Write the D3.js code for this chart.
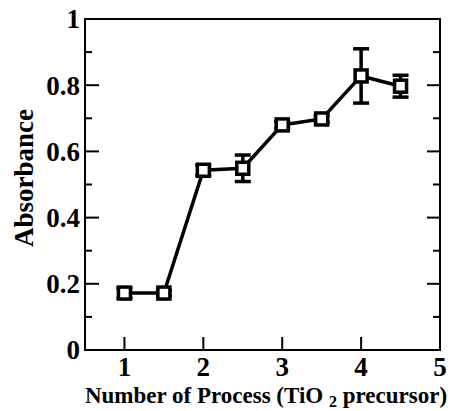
<!DOCTYPE html>
<html><head><meta charset="utf-8">
<script src="https://cdn.jsdelivr.net/npm/d3@7"></script>
<style>body{margin:0;background:#fff}svg{display:block}text{font-family:"Liberation Serif","Times New Roman",serif;font-weight:bold;fill:#000}</style>
</head><body>
<svg id="c" width="454" height="411"></svg>
<script>
const processes = [1, 1.5, 2, 2.5, 3, 3.5, 4, 4.5];
const absorbance = [0.172, 0.172, 0.543, 0.549, 0.68, 0.698, 0.828, 0.797];
const errors = [0.015, 0.008, 0.015, 0.04, 0.01, 0.01, 0.082, 0.033];
const xTicks = [1, 2, 3, 4, 5];
const yTicks = [0, 0.2, 0.4, 0.6, 0.8, 1];
const yMinor = [0.1, 0.3, 0.5, 0.7, 0.9];

const svg = d3.select("#c");
const L = 85, R = 440, T = 19, B = 350;
const x = d3.scaleLinear().domain([0.5, 5]).range([L, R]);
const y = d3.scaleLinear().domain([0, 1]).range([B, T]);

svg.append("rect").attr("x", L).attr("y", T).attr("width", R - L).attr("height", B - T)
  .attr("fill", "none").attr("stroke", "#000").attr("stroke-width", 2);

const g = svg.append("g").attr("stroke", "#000").attr("stroke-width", 2);
yTicks.forEach(v => {
  g.append("line").attr("x1", L).attr("x2", L + 14).attr("y1", y(v)).attr("y2", y(v));
  g.append("line").attr("x1", R).attr("x2", R - 13).attr("y1", y(v)).attr("y2", y(v));
});
yMinor.forEach(v => {
  g.append("line").attr("x1", L).attr("x2", L + 7).attr("y1", y(v)).attr("y2", y(v));
  g.append("line").attr("x1", R).attr("x2", R - 7).attr("y1", y(v)).attr("y2", y(v));
});
xTicks.forEach(v => {
  g.append("line").attr("x1", x(v)).attr("x2", x(v)).attr("y1", B).attr("y2", B - 13);
});

svg.selectAll(".yl").data(yTicks).enter().append("text")
  .attr("x", L - 5).attr("y", d => y(d)).attr("dy", "0.35em")
  .attr("text-anchor", "end").attr("font-size", 27).text(d => d3.format("~g")(d));
svg.selectAll(".xl").data(xTicks).enter().append("text")
  .attr("x", d => x(d)).attr("y", 376)
  .attr("text-anchor", "middle").attr("font-size", 27).text(d => d);

svg.append("text").attr("transform", "translate(33,178) rotate(-90)")
  .attr("text-anchor", "middle").attr("font-size", 27).text("Absorbance");
const xt = svg.append("text").attr("x", 266).attr("y", 403).attr("text-anchor", "middle").attr("font-size", 23);
xt.append("tspan").text("Number of Process (TiO ");
xt.append("tspan").attr("font-size", 16).attr("dy", 4).text("2");
xt.append("tspan").attr("dy", -4).text(" precursor)");

svg.append("path").datum(processes.map((p, i) => [p, absorbance[i]]))
  .attr("d", d3.line().x(d => x(d[0])).y(d => y(d[1])))
  .attr("fill", "none").attr("stroke", "#000").attr("stroke-width", 3.5);

const eb = svg.append("g").attr("stroke", "#000").attr("stroke-width", 3.5);
processes.forEach((p, i) => {
  const cx = x(p), hi = y(absorbance[i] + errors[i]), lo = y(absorbance[i] - errors[i]);
  eb.append("line").attr("x1", cx).attr("x2", cx).attr("y1", hi).attr("y2", lo);
  eb.append("line").attr("x1", cx - 8).attr("x2", cx + 8).attr("y1", hi).attr("y2", hi);
  eb.append("line").attr("x1", cx - 8).attr("x2", cx + 8).attr("y1", lo).attr("y2", lo);
});

svg.selectAll(".m").data(processes).enter().append("rect")
  .attr("x", d => x(d) - 6).attr("y", (d, i) => y(absorbance[i]) - 6)
  .attr("width", 12).attr("height", 12)
  .attr("fill", "#fff").attr("stroke", "#000").attr("stroke-width", 3.5);
</script>
</body></html>
